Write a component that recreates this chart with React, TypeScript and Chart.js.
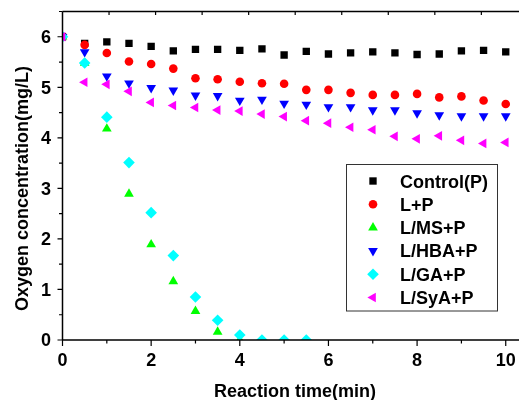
import { useEffect, useRef } from "react";
import { Chart, registerables } from "chart.js";
import { drawPoint } from "chart.js/helpers";

Chart.register(...registerables);

const times = [0, 0.5, 1, 1.5, 2, 2.5, 3, 3.5, 4, 4.5, 5, 5.5, 6, 6.5, 7, 7.5, 8, 8.5, 9, 9.5, 10];

const controlP = [6.0, 5.87, 5.9, 5.87, 5.81, 5.72, 5.75, 5.75, 5.73, 5.76, 5.64, 5.71, 5.66, 5.68, 5.7, 5.68, 5.65, 5.66, 5.72, 5.73, 5.7];
const lP = [6.0, 5.84, 5.68, 5.51, 5.46, 5.37, 5.18, 5.16, 5.11, 5.08, 5.07, 4.95, 4.95, 4.89, 4.85, 4.85, 4.87, 4.8, 4.82, 4.74, 4.67];
const lmsP = [6.0, 5.48, 4.18, 2.89, 1.89, 1.16, 0.57, 0.16, 0.0];
const lhbaP = [6.0, 5.7, 5.22, 5.08, 4.99, 4.94, 4.84, 4.83, 4.74, 4.76, 4.68, 4.66, 4.61, 4.61, 4.55, 4.55, 4.49, 4.45, 4.43, 4.43, 4.43];
const lgaP = [6.0, 5.48, 4.41, 3.51, 2.52, 1.67, 0.85, 0.39, 0.1, 0.0, 0.0, 0.0];
const lsyaP = [6.0, 5.1, 5.06, 4.92, 4.7, 4.64, 4.6, 4.55, 4.53, 4.47, 4.42, 4.34, 4.29, 4.21, 4.16, 4.03, 3.98, 4.04, 3.95, 3.89, 3.91];

const seriesLabels = ["Control(P)", "L+P", "L/MS+P", "L/HBA+P", "L/GA+P", "L/SyA+P"];
const seriesValues = [controlP, lP, lmsP, lhbaP, lgaP, lsyaP];
const seriesColors = ["#000000", "#ff0000", "#00ff00", "#0000ff", "#00ffff", "#ff00ff"];
const seriesStyles = ["rect", "circle", "triangle", "triangle", "rectRot", "triangle"];
const seriesRotation = [0, 0, 0, 180, 0, -90];
const seriesRadius = [5.2, 4.3, 5.6, 5.6, 5.8, 5.6];

const xTickLabels = [0, 2, 4, 6, 8, 10];
const yTickLabels = [0, 1, 2, 3, 4, 5, 6];
const xTitle = "Reaction time(min)";
const yTitle = "Oxygen concentration(mg/L)";

const FONT = 'bold 18px "Liberation Sans", Arial, sans-serif';

const framePlugin = {
  id: "framePlugin",
  afterDraw(chart: any) {
    const { ctx, chartArea: a, scales } = chart;
    const xs = scales.x;
    const ys = scales.y;
    const xt = scales.xTop;
    ctx.save();
    ctx.strokeStyle = "#000";
    ctx.lineWidth = 1.5;
    ctx.beginPath();
    ctx.moveTo(a.left, a.top);
    ctx.lineTo(a.right + 30, a.top);
    ctx.moveTo(a.left, a.top);
    ctx.lineTo(a.left, a.bottom);
    ctx.moveTo(a.left, a.bottom);
    ctx.lineTo(a.right + 30, a.bottom);
    ctx.stroke();

    ctx.lineWidth = 1.2;
    ctx.beginPath();
    for (let v = 0; v <= 10; v++) {
      const px = xs.getPixelForValue(v);
      const len = v % 2 === 0 ? 6 : 3.5;
      ctx.moveTo(px, a.bottom);
      ctx.lineTo(px, a.bottom + len);
    }
    for (let v = 1; v <= 10; v++) {
      const px = xt.getPixelForValue(v);
      ctx.moveTo(px, a.top);
      ctx.lineTo(px, a.top + 3.5);
    }
    for (let k = 0; k <= 13; k++) {
      const v = k * 0.5;
      const py = ys.getPixelForValue(v);
      const len = k % 2 === 0 ? 5 : 3.5;
      ctx.moveTo(a.left, py);
      ctx.lineTo(a.left - len, py);
    }
    ctx.stroke();

    ctx.fillStyle = "#000";
    ctx.font = FONT;
    ctx.textAlign = "center";
    ctx.textBaseline = "alphabetic";
    xTickLabels.forEach((v) => {
      ctx.fillText(String(v), xs.getPixelForValue(v), 365.5);
    });
    ctx.textAlign = "right";
    yTickLabels.forEach((v) => {
      ctx.fillText(String(v), 51, ys.getPixelForValue(v) + 6.4);
    });

    ctx.textAlign = "center";
    ctx.fillText(xTitle, 295, 397);
    ctx.save();
    ctx.translate(28, 188.5);
    ctx.rotate(-Math.PI / 2);
    ctx.fillText(yTitle, 0, 0);
    ctx.restore();

    // legend
    ctx.strokeStyle = "#333";
    ctx.lineWidth = 1;
    ctx.strokeRect(346.5, 164.5, 151, 146.5);
    ctx.textAlign = "left";
    seriesLabels.forEach((lab, i) => {
      const cy = 181 + i * 23.3;
      ctx.fillStyle = seriesColors[i];
      ctx.strokeStyle = seriesColors[i];
      drawPoint(ctx, {
        pointStyle: seriesStyles[i],
        radius: seriesRadius[i],
        rotation: seriesRotation[i],
        borderWidth: 0,
      } as any, 373, cy);
      ctx.fillStyle = "#000";
      ctx.fillText(lab, 400, cy + 6.5);
    });
    ctx.restore();
  },
};

export default function App() {
  const ref = useRef<HTMLCanvasElement>(null);
  useEffect(() => {
    if (!ref.current) return;
    const datasets = seriesLabels.map((label, i) => ({
      label,
      data: seriesValues[i].map((y, j) => ({ x: times[j], y })),
      showLine: false,
      pointStyle: seriesStyles[i],
      pointRotation: seriesRotation[i],
      pointRadius: seriesRadius[i],
      pointBackgroundColor: seriesColors[i],
      pointBorderColor: seriesColors[i],
      pointBorderWidth: 0,
      backgroundColor: seriesColors[i],
      borderColor: seriesColors[i],
      order: -i,
      clip: 0,
    }));
    const chart = new Chart(ref.current, {
      type: "scatter",
      data: { datasets },
      options: {
        animation: false,
        responsive: false,
        devicePixelRatio: 1,
        layout: { padding: { left: 62.5, right: 12.1, top: 11.5, bottom: 60 } },
        plugins: { legend: { display: false }, tooltip: { enabled: false } },
        scales: {
          x: { type: "linear", min: 0, max: 10.5, display: false },
          xTop: { type: "linear", position: "top", min: 0, max: 10, display: false },
          y: { type: "linear", min: 0, max: 6.5, display: false },
        },
      } as any,
      plugins: [framePlugin],
    });
    return () => chart.destroy();
  }, []);
  return (
    <div
      style={{
        position: "fixed",
        left: 0,
        top: 0,
        width: 519,
        height: 400,
        overflow: "hidden",
        background: "#fff",
      }}
    >
      <canvas ref={ref} width={540} height={400} style={{ display: "block" }} />
    </div>
  );
}
